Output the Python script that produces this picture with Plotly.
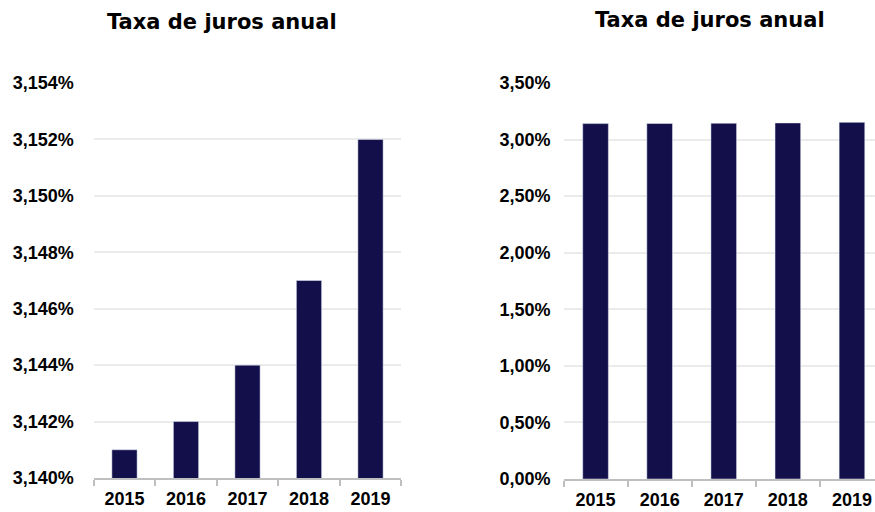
import plotly.graph_objects as go

years = ["2015", "2016", "2017", "2018", "2019"]
rates = [0.03141, 0.03142, 0.03144, 0.03147, 0.03152]
title_text = "Taxa de juros anual"
left_ticks = [0.03140, 0.03142, 0.03144, 0.03146, 0.03148, 0.03150, 0.03152, 0.03154]
right_ticks = [0.0, 0.005, 0.01, 0.015, 0.02, 0.025, 0.03, 0.035]

W, H = 884, 512
bar_color = "#130f4b"
font_fam = "Liberation Sans, Arial, sans-serif"
tick_font = dict(family=font_fam, size=18, color="#000000", weight="bold")
title_font = dict(family="DejaVu Sans, sans-serif", size=21, color="#000000")

fig = go.Figure()
fig.add_trace(go.Bar(x=years, y=rates, marker_color=bar_color, width=0.41,
                     xaxis="x", yaxis="y", showlegend=False))
fig.add_trace(go.Bar(x=years, y=rates, marker_color=bar_color, width=0.40,
                     xaxis="x2", yaxis="y2", showlegend=False))

axis_x = dict(showgrid=False, showline=True, linecolor="#bfbfbf", linewidth=2,
              ticks="outside", tickson="boundaries", ticklen=6, tickcolor="#bfbfbf",
              tickwidth=1.5, tickfont=tick_font, automargin=False, ticklabelstandoff=3)
axis_y = dict(showgrid=True, gridcolor="#ebebeb", gridwidth=2, zeroline=False,
              showline=False, ticks="", tickfont=tick_font, automargin=False)

fig.update_layout(
    width=W, height=H,
    margin=dict(l=0, r=0, t=0, b=0, pad=0, autoexpand=False),
    paper_bgcolor="white", plot_bgcolor="white",
    separators=",.",
    xaxis=dict(domain=[93.75 / W, 401.25 / W], anchor="y", **axis_x),
    yaxis=dict(domain=[1 - 478 / H, 1 - 83 / H], anchor="x", range=[0.03140, 0.03154],
               tickvals=left_ticks, tickformat=".3%", ticklabelstandoff=19, **axis_y),
    xaxis2=dict(domain=[563.5 / W, 1.0], anchor="y2", **axis_x),
    yaxis2=dict(domain=[1 - 479 / H, 1 - 83 / H], anchor="x2", range=[0, 0.035],
                tickvals=right_ticks, tickformat=".2%", ticklabelstandoff=12, **axis_y),
    annotations=[
        dict(text="<b>" + title_text + "</b>", x=221.5 / W, y=1 - 22 / H, xref="paper", yref="paper",
             showarrow=False, font=title_font, xanchor="center", yanchor="middle"),
        dict(text="<b>" + title_text + "</b>", x=710 / W, y=1 - 20 / H, xref="paper", yref="paper",
             showarrow=False, font=title_font, xanchor="center", yanchor="middle"),
    ],
    font=dict(family=font_fam, size=14, color="#000000"),
)

fig.write_html(
    "out.html",
    config={"displayModeBar": False},
    post_script="document.body.style.margin='0px';document.body.style.overflow='hidden';"
                "document.documentElement.style.overflow='hidden';",
)
